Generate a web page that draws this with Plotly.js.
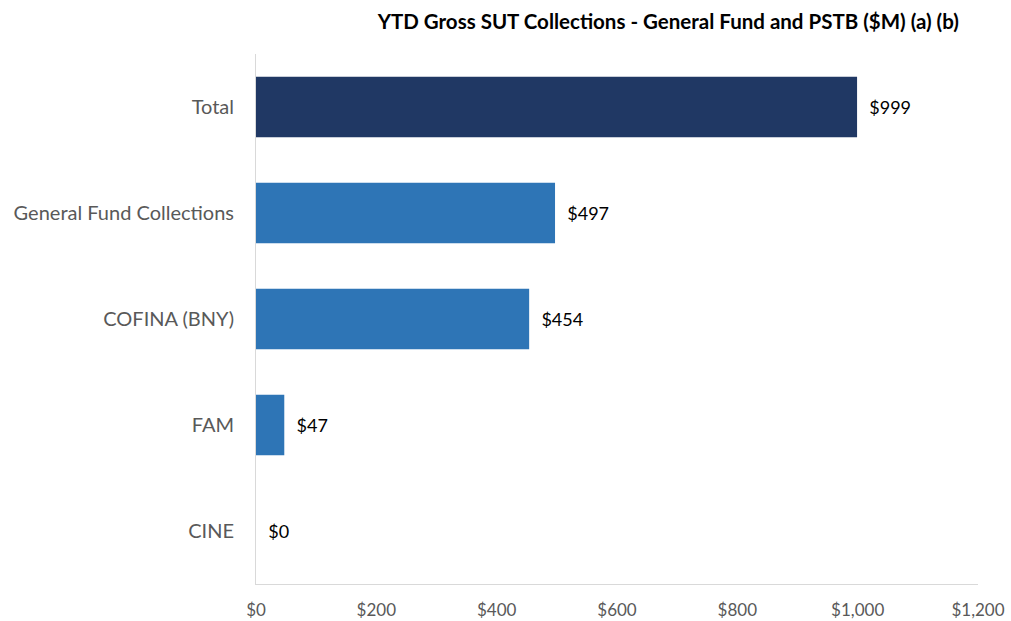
<!DOCTYPE html>
<html><head><meta charset="utf-8">
<script src="https://cdn.plot.ly/plotly-3.0.1.min.js"></script>
<style>html,body{margin:0;padding:0;background:#fff;}#chart{width:1011px;height:621px;}</style>
</head><body><div id="chart"></div>
<script>
const categories = ["Total", "General Fund Collections", "COFINA (BNY)", "FAM", "CINE"];
const values = [999, 497, 454, 47, 0];
const barColors = ["#203864", "#2E75B6", "#2E75B6", "#2E75B6", "#2E75B6"];
const xTickVals = [0, 200, 400, 600, 800, 1000, 1200];
const xTickText = ["$0", "$200", "$400", "$600", "$800", "$1,000", "$1,200"];
const chartTitle = "YTD Gross SUT Collections - General Fund and PSTB ($M) (a) (b)";

const FONT = "Lato, 'Open Sans', sans-serif";
const trace = {
  type: "bar",
  orientation: "h",
  y: categories,
  x: values,
  marker: {color: barColors},
  text: values.map(v => "\u00a0\u00a0$" + v.toLocaleString("en-US")),
  textposition: "outside",
  textfont: {family: FONT, size: 18, color: "#000000"},
  cliponaxis: false,
  hoverinfo: "skip",
  width: 0.57
};
const layout = {
  width: 1011, height: 621,
  margin: {l: 256, r: 33, t: 54, b: 37},
  paper_bgcolor: "#ffffff", plot_bgcolor: "#ffffff",
  showlegend: false,
  title: {text: "<b>" + chartTitle + "</b>", font: {family: FONT, size: 20.5, color: "#000000"},
          xref: "container", x: 0.661, xanchor: "center", yref: "container", y: 1 - 22/621, yanchor: "middle"},
  xaxis: {range: [0, 1200], tickvals: xTickVals, ticktext: xTickText, showgrid: false, zeroline: false,
          showline: true, linecolor: "#d9d9d9", linewidth: 1, ticks: "", ticklabelstandoff: 11,
          tickfont: {family: FONT, size: 17, color: "#595959"}, fixedrange: true},
  yaxis: {autorange: "reversed", showgrid: false, zeroline: false, showline: true, linecolor: "#d9d9d9",
          linewidth: 1, ticks: "", ticklabelstandoff: 17,
          tickfont: {family: FONT, size: 20, color: "#595959"}, fixedrange: true}
};
Plotly.newPlot("chart", [trace], layout, {displayModeBar: false, staticPlot: true});
</script></body></html>
